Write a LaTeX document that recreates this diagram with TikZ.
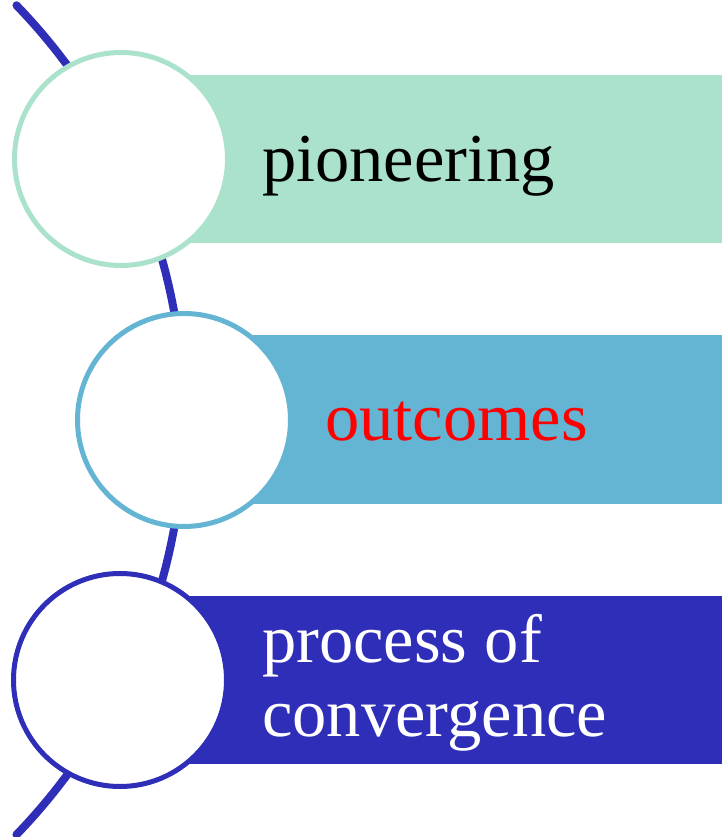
\documentclass[tikz,border=0pt]{standalone}
\usepackage{fontspec}
\setmainfont{Liberation Serif}
\definecolor{cgreen}{HTML}{ABE2CB}
\definecolor{ccyan}{HTML}{64B4D4}
\definecolor{cblue}{HTML}{2E2EB8}
\begin{document}
\begin{tikzpicture}[x=1pt,y=1pt,
  band/.style={draw=none,inner sep=0pt,minimum height=168pt},
  disc/.style={circle,fill=white,line width=5pt,minimum size=213pt,inner sep=0pt},
  label/.style={anchor=base west,inner sep=0pt,font=\fontsize{68.5}{74}\selectfont}]
\useasboundingbox (0,0) rectangle (722,837);
% backbone arc
\coordinate (arcc) at (-413,417);
\draw[cblue,line width=8pt,line cap=round] ([shift={(44:597)}]arcc) arc[start angle=44,end angle=-44,radius=597];
% bands
\node[band,fill=cgreen,minimum width=532pt] (b1) at (456,678) {};
\node[band,fill=ccyan,minimum width=472pt,minimum height=169pt] (b2) at (486,417.5) {};
\node[band,fill=cblue,minimum width=532pt] (b3) at (456,157) {};
% circles
\node[disc,draw=cgreen] (c1) at (121,678) {};
\node[disc,draw=ccyan] (c2) at (184,417) {};
\node[disc,draw=cblue] (c3) at (120,157) {};
% labels
\node[label,text=black] (t1) at (262,655) {pioneering};
\node[label,text=red] (t2) at (325,396) {outcomes};
\node[label,text=white] (t3) at (262,174) {process of};
\node[label,text=white] (t4) at (262,100) {convergence};
\end{tikzpicture}
\end{document}
